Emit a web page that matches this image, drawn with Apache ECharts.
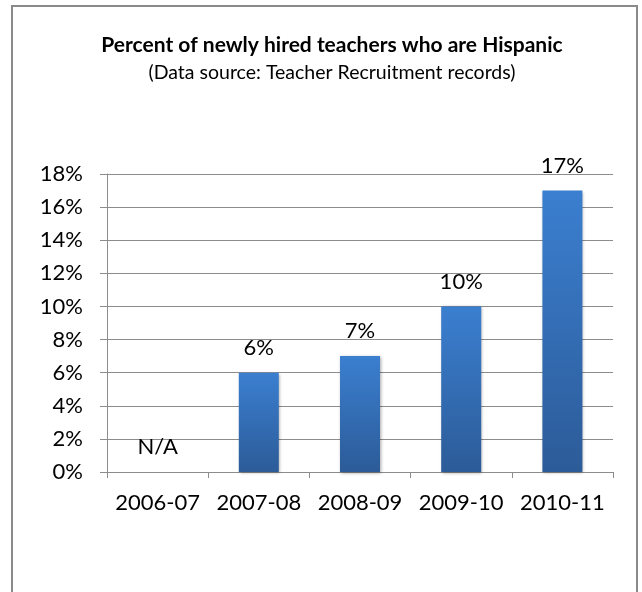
<!DOCTYPE html>
<html>
<head>
<meta charset="utf-8">
<script src="https://cdn.jsdelivr.net/npm/echarts@6/dist/echarts.min.js"></script>
<style>
html,body{margin:0;padding:0;background:#fff;}
#chart{width:642px;height:592px;}
</style>
</head>
<body>
<div id="chart"></div>
<script>
var categories = ['2006-07', '2007-08', '2008-09', '2009-10', '2010-11'];
var percentHispanic = [null, 6, 7, 10, 17];
var missingLabel = 'N/A';
var titleText = 'Percent of newly hired teachers who are Hispanic';
var subtitleText = '(Data source: Teacher Recruitment records)';

var FONT = 'Lato';
var chart = echarts.init(document.getElementById('chart'));

var barData = percentHispanic.map(function (v) {
  if (v === null) {
    return { value: 0, label: { formatter: missingLabel } };
  }
  return { value: v };
});

chart.setOption({
  animation: false,
  backgroundColor: '#ffffff',
  graphic: [{
    type: 'rect',
    shape: { x: 12, y: 6, width: 625, height: 620 },
    style: { fill: 'none', stroke: '#8a8a8a', lineWidth: 2 },
    silent: true,
    z: -1
  }],
  title: [{
    text: titleText,
    left: 327, top: 30, textAlign: 'center',
    textStyle: { fontFamily: FONT, fontWeight: 'bold', fontSize: 21, color: '#000' }
  }, {
    text: subtitleText,
    left: 327, top: 58, textAlign: 'center',
    textStyle: { fontFamily: FONT, fontWeight: 'normal', fontSize: 19.5, color: '#000' }
  }],
  grid: { left: 107, right: 29, top: 174, bottom: 120, containLabel: false },
  xAxis: {
    type: 'category',
    data: categories,
    boundaryGap: true,
    axisLine: { show: true, lineStyle: { color: '#8c8c8c', width: 1 } },
    axisTick: { show: true, alignWithLabel: false, length: 6, lineStyle: { color: '#8c8c8c' } },
    axisLabel: { interval: 0, margin: 20, fontFamily: FONT, fontSize: 22, color: '#000' },
    splitLine: { show: false }
  },
  yAxis: {
    type: 'value',
    min: 0, max: 18, interval: 2,
    axisLine: { show: true, lineStyle: { color: '#8c8c8c', width: 1 } },
    axisTick: { show: true, length: 7, lineStyle: { color: '#8c8c8c' } },
    axisLabel: { formatter: '{value}%', margin: 24, fontFamily: FONT, fontSize: 22, color: '#000' },
    splitLine: { show: true, lineStyle: { color: '#8c8c8c', width: 1 } }
  },
  series: [{
    type: 'bar',
    data: barData,
    barWidth: 40,
    itemStyle: {
      color: new echarts.graphic.LinearGradient(0, 0, 0, 1, [
        { offset: 0, color: '#3b7fd0' },
        { offset: 1, color: '#2c5b98' }
      ]),
      shadowBlur: 3,
      shadowColor: 'rgba(0,0,0,0.35)',
      shadowOffsetX: 1,
      shadowOffsetY: 1
    },
    label: {
      show: true,
      position: 'top',
      distance: 14,
      formatter: '{c}%',
      fontFamily: FONT,
      fontSize: 22,
      color: '#000'
    }
  }]
});
</script>
</body>
</html>
